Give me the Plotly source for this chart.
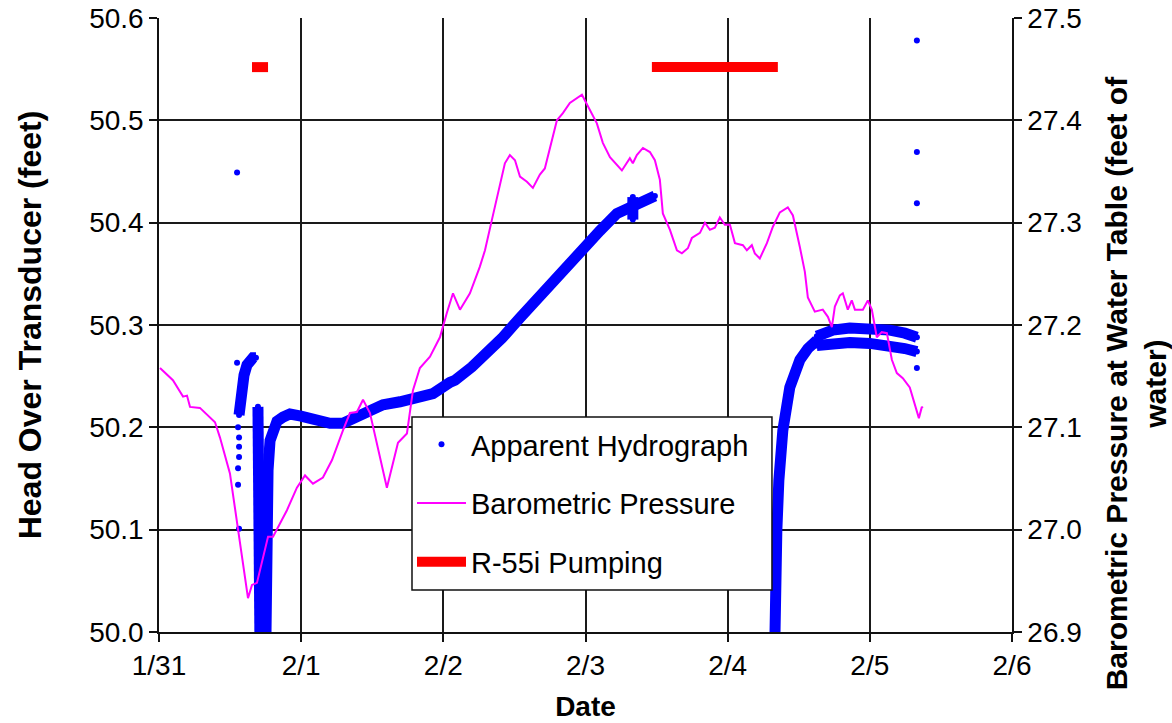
import plotly.graph_objects as go

# ---- axes -------------------------------------------------------------
day_ticks = [0, 1, 2, 3, 4, 5, 6]
day_labels = ["1/31", "2/1", "2/2", "2/3", "2/4", "2/5", "2/6"]
head_range = [50.0, 50.6]
baro_range = [26.9, 27.5]

# ---- barometric pressure (feet of water), days after 1/31 00:00 -------
baro_days = [0.007, 0.098, 0.169, 0.197, 0.218, 0.288, 0.394, 0.429, 0.499, 0.556,
             0.626, 0.654, 0.689, 0.767, 0.802, 0.900, 0.970, 1.027, 1.083, 1.153,
             1.217, 1.294, 1.343, 1.392, 1.435, 1.484, 1.554, 1.603, 1.681, 1.744,
             1.786, 1.835, 1.906, 1.976, 2.025, 2.068, 2.117, 2.187, 2.257, 2.293,
             2.342, 2.377, 2.433, 2.468, 2.504, 2.539, 2.588, 2.630, 2.679, 2.714,
             2.750, 2.799, 2.841, 2.890, 2.975, 3.031, 3.080, 3.122, 3.172, 3.256,
             3.312, 3.333, 3.361, 3.404, 3.453, 3.488, 3.523, 3.544, 3.594, 3.643,
             3.678, 3.720, 3.748, 3.805, 3.840, 3.875, 3.910, 3.945, 3.980, 4.016,
             4.051, 4.107, 4.135, 4.170, 4.191, 4.226, 4.276, 4.318, 4.367, 4.423,
             4.459, 4.508, 4.543, 4.564, 4.613, 4.669, 4.705, 4.733, 4.754, 4.789,
             4.810, 4.845, 4.873, 4.895, 4.951, 4.986, 5.014, 5.049, 5.084, 5.120,
             5.155, 5.190, 5.232, 5.281, 5.331, 5.345, 5.366, 5.373]
baro_ft = [27.158, 27.146, 27.130, 27.131, 27.120, 27.119, 27.105, 27.090, 27.055, 27.002,
           26.933, 26.946, 26.948, 26.993, 26.993, 27.019, 27.041, 27.053, 27.045, 27.051,
           27.068, 27.097, 27.114, 27.115, 27.127, 27.114, 27.071, 27.041, 27.085, 27.094,
           27.136, 27.158, 27.169, 27.188, 27.212, 27.231, 27.215, 27.231, 27.257, 27.273,
           27.303, 27.325, 27.358, 27.366, 27.361, 27.345, 27.340, 27.334, 27.347, 27.353,
           27.374, 27.400, 27.407, 27.417, 27.425, 27.410, 27.397, 27.378, 27.364, 27.351,
           27.363, 27.358, 27.366, 27.373, 27.369, 27.361, 27.342, 27.309, 27.293, 27.273,
           27.270, 27.275, 27.285, 27.290, 27.300, 27.293, 27.295, 27.305, 27.298, 27.298,
           27.280, 27.278, 27.273, 27.278, 27.270, 27.265, 27.280, 27.296, 27.310, 27.315,
           27.307, 27.276, 27.252, 27.227, 27.213, 27.215, 27.208, 27.198, 27.218, 27.229,
           27.231, 27.215, 27.224, 27.215, 27.215, 27.224, 27.215, 27.188, 27.193, 27.192,
           27.166, 27.153, 27.148, 27.139, 27.114, 27.109, 27.120, 27.119]

# ---- apparent hydrograph (head over transducer, feet) -----------------
pre_days = [0.563, 0.570, 0.584, 0.598, 0.619, 0.640, 0.661, 0.682]
pre_head = [50.212, 50.227, 50.241, 50.251, 50.261, 50.266, 50.268, 50.268]

draw_days = [0.696, 0.696, 0.703, 0.710]
draw_head = [50.220, 50.158, 50.070, 49.992]

recov1_days = [0.752, 0.752, 0.759, 0.767, 0.781, 0.802, 0.830, 0.872, 0.921, 0.999,
               1.111, 1.203, 1.294, 1.392, 1.484, 1.575, 1.695, 1.814, 1.927, 2.046,
               2.082, 2.201, 2.314, 2.412, 2.539, 2.679, 2.820, 2.961, 3.101, 3.221,
               3.333, 3.432, 3.488]
recov1_head = [49.992, 50.070, 50.129, 50.158, 50.187, 50.199, 50.206, 50.210, 50.213, 50.211,
               50.207, 50.204, 50.204, 50.210, 50.217, 50.222, 50.225, 50.229, 50.233, 50.244,
               50.246, 50.259, 50.273, 50.287, 50.307, 50.329, 50.349, 50.370, 50.392, 50.409,
               50.415, 50.422, 50.426]

blip_days = [3.333, 3.333]
blip_head = [50.425, 50.403]

recov2_days = [4.332, 4.332, 4.339, 4.346, 4.360, 4.388, 4.437, 4.508, 4.564, 4.627]
recov2_head = [49.992, 50.060, 50.085, 50.100, 50.148, 50.197, 50.239, 50.266, 50.277, 50.285]

late_days = [4.627, 4.740, 4.859, 5.000, 5.141, 5.246, 5.331]
late_upper_head = [50.289, 50.295, 50.297, 50.297, 50.295, 50.292, 50.288]
late_lower_head = [50.280, 50.282, 50.283, 50.282, 50.280, 50.277, 50.274]

stray_days = [0.549, 0.549, 0.556, 0.563, 0.563, 0.563, 0.556, 0.556, 0.563,
              5.331, 5.331, 5.331, 5.331]
stray_head = [50.449, 50.263, 50.200, 50.190, 50.181, 50.171, 50.160, 50.144, 50.101,
              50.578, 50.469, 50.419, 50.258]

# ---- R-55i pumping periods --------------------------------------------
pump_periods = [(0.654, 0.767), (3.467, 4.353)]
pump_level = 50.552

BLUE = "#0000FF"
MAGENTA = "#FF00FF"
RED = "#FF0000"
INK = "#111111"
FONT = "Liberation Sans, Arial, sans-serif"

segments = [
    (pre_days, pre_head),
    (draw_days, draw_head),
    (recov1_days, recov1_head),
    (blip_days, blip_head),
    (recov2_days, recov2_head),
    (late_days, late_upper_head),
    (late_days, late_lower_head),
]

band_x, band_y = [], []
for xs, ys in segments:
    band_x += list(xs) + [None]
    band_y += list(ys) + [None]

dots_x = [v for v in band_x if v is not None] + stray_days
dots_y = [v for v in band_y if v is not None] + stray_head

pump_x, pump_y = [], []
for start, end in pump_periods:
    pump_x += [start, end, None]
    pump_y += [pump_level, pump_level, None]

fig = go.Figure()

# dense logger record drawn as a continuous band of dots
fig.add_trace(go.Scatter(
    x=band_x, y=band_y, mode="lines", showlegend=False, hoverinfo="skip",
    line=dict(color=BLUE, width=11), connectgaps=False,
))
fig.add_trace(go.Scatter(
    x=dots_x, y=dots_y, mode="markers", name="Apparent Hydrograph",
    legendgroup="a", marker=dict(color=BLUE, size=6),
))
fig.add_trace(go.Scatter(
    x=baro_days, y=baro_ft, mode="lines", name="Barometric Pressure",
    legendgroup="b", yaxis="y2", line=dict(color=MAGENTA, width=2),
))
fig.add_trace(go.Scatter(
    x=pump_x, y=pump_y, mode="lines", name="R-55i Pumping",
    legendgroup="c", line=dict(color=RED, width=10), connectgaps=False,
))

axis_common = dict(
    showline=True, linecolor=INK, linewidth=1.5, automargin=False,
    ticks="outside", ticklen=8, tickcolor=INK, tickwidth=1.5,
    zeroline=False,
    tickfont=dict(family=FONT, size=28, color="#000000"),
)

# legend frame (opaque box behind the legend entries)
legend_box = dict(x0=0.2966, x1=0.7186, y0=0.0684, y1=0.350)

fig.update_layout(
    width=1172, height=723,
    margin=dict(l=159, r=160, t=18, b=91),
    paper_bgcolor="white", plot_bgcolor="white",
    font=dict(family=FONT, color="#000000"),
    xaxis=dict(
        range=[0, 6], tickvals=day_ticks, ticktext=day_labels,
        gridcolor="#1a1a1a", gridwidth=1.5,
        title=dict(text="<b>Date</b>", font=dict(family=FONT, size=28), standoff=16),
        **axis_common,
    ),
    yaxis=dict(
        range=head_range, dtick=0.1, tickformat=".1f",
        gridcolor="#1a1a1a", gridwidth=1.5,
        title=dict(text="<b>Head Over Transducer (feet)</b>",
                   font=dict(family=FONT, size=32), standoff=38),
        **axis_common,
    ),
    yaxis2=dict(
        range=baro_range, dtick=0.1, tickformat=".1f", overlaying="y", side="right",
        showgrid=False,
        **axis_common,
    ),
    annotations=[dict(
        text="<b>Barometric Pressure at Water Table (feet of<br>water)</b>",
        xref="paper", yref="paper", x=1.1454, y=0.405,
        xanchor="center", yanchor="middle", textangle=-90, showarrow=False,
        font=dict(family=FONT, size=30, color="#000000"),
    )],
    legend=dict(
        x=legend_box["x0"], y=legend_box["y1"] - 0.003, xanchor="left", yanchor="top",
        bgcolor="rgba(0,0,0,0)", borderwidth=0,
        font=dict(family=FONT, size=29, color="#000000"),
        itemwidth=49, tracegroupgap=18, traceorder="grouped",
    ),
    shapes=[dict(
        type="rect", xref="paper", yref="paper", layer="above",
        fillcolor="white", line=dict(color=INK, width=1.5), **legend_box,
    )],
    showlegend=True,
)

fig.write_html("out.html")
